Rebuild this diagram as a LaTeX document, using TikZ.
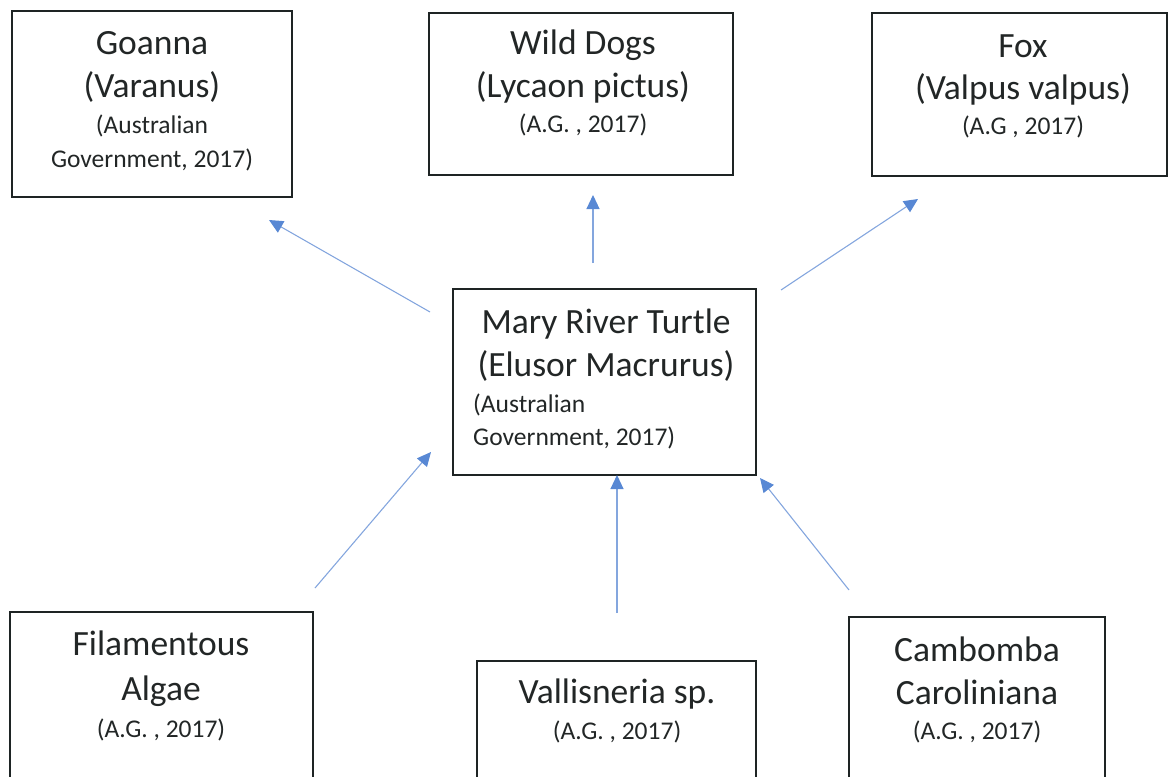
\documentclass[tikz,border=0pt]{standalone}
\usepackage{fontspec}
\setmainfont{Carlito}
\usetikzlibrary{arrows.meta}

\definecolor{inkline}{RGB}{30,36,36}
\definecolor{inktext}{RGB}{34,38,38}
\definecolor{linkblue}{RGB}{132,166,222}
\definecolor{headblue}{RGB}{88,136,212}

\tikzset{
  box/.style={draw=inkline, line width=1.7pt, inner sep=0pt},
  big/.style={text=inktext, inner sep=0pt, anchor=base, font=\fontsize{35.5}{40}\selectfont},
  small/.style={text=inktext, inner sep=0pt, anchor=base, font=\fontsize{25.5}{30}\selectfont},
  smallleft/.style={small, anchor=base west},
  link/.style={draw=linkblue, line width=1.1pt,
    -{Triangle[length=14pt, width=13pt, color=headblue]}}
}

\begin{document}
\begin{tikzpicture}[x=1pt, y=-1pt]
  \useasboundingbox (0,0) rectangle (1169,776);
  \clip (0,0) rectangle (1169,776);

  % boxes
  \node[box, minimum width=280pt, minimum height=186pt] (goanna) at (152,104) {};
  \node[box, minimum width=304pt, minimum height=162pt] (dogs) at (581,94) {};
  \node[box, minimum width=295pt, minimum height=163pt] (fox) at (1019.5,94.5) {};
  \node[box, minimum width=303pt, minimum height=186pt] (turtle) at (604.5,382) {};
  \node[box, minimum width=303pt, minimum height=178pt] (algae) at (161.5,701) {};
  \node[box, minimum width=279pt, minimum height=129pt] (vallis) at (616.5,725.5) {};
  \node[box, minimum width=256pt, minimum height=173pt] (cabomba) at (977,703.5) {};

  % labels
  \node[big]   (goanna-a) at (152,55)  {Goanna};
  \node[big]   (goanna-b) at (152,97)  {(Varanus)};
  \node[small] (goanna-c) at (152,133) {(Australian};
  \node[small] (goanna-d) at (152,167) {Government, 2017)};

  \node[big]   (dogs-a) at (583,55)  {Wild Dogs};
  \node[big]   (dogs-b) at (583,97)  {(Lycaon pictus)};
  \node[small] (dogs-c) at (583,132) {(A.G. , 2017)};

  \node[big]   (fox-a) at (1023,57)  {Fox};
  \node[big]   (fox-b) at (1023,99)  {(Valpus valpus)};
  \node[small] (fox-c) at (1023,134) {(A.G , 2017)};

  \node[big]       (turtle-a) at (606,333) {Mary River Turtle};
  \node[big]       (turtle-b) at (606,376) {(Elusor Macrurus)};
  \node[smallleft] (turtle-c) at (473,412) {(Australian};
  \node[smallleft] (turtle-d) at (473,445) {Government, 2017)};

  \node[big]   (algae-a) at (161,655) {Filamentous};
  \node[big]   (algae-b) at (161,700) {Algae};
  \node[small] (algae-c) at (161,737) {(A.G. , 2017)};

  \node[big]   (vallis-a) at (617,703) {Vallisneria sp.};
  \node[small] (vallis-b) at (617,739) {(A.G. , 2017)};

  \node[big]   (cabomba-a) at (977,661) {Cambomba};
  \node[big]   (cabomba-b) at (977,704) {Caroliniana};
  \node[small] (cabomba-c) at (977,739) {(A.G. , 2017)};

  % connector ends
  \coordinate (g-from) at (430,312);  \coordinate (g-to) at (269,220);
  \coordinate (d-from) at (593,263);  \coordinate (d-to) at (593,195);
  \coordinate (f-from) at (781,290);  \coordinate (f-to) at (918,199);
  \coordinate (a-from) at (315,588);  \coordinate (a-to) at (431,452);
  \coordinate (v-from) at (617,613);  \coordinate (v-to) at (617,475);
  \coordinate (c-from) at (849,590);  \coordinate (c-to) at (760,478);

  % connectors
  \draw[link] (g-from) -- (g-to);
  \draw[link] (d-from) -- (d-to);
  \draw[link] (f-from) -- (f-to);
  \draw[link] (a-from) -- (a-to);
  \draw[link] (v-from) -- (v-to);
  \draw[link] (c-from) -- (c-to);
\end{tikzpicture}
\end{document}
